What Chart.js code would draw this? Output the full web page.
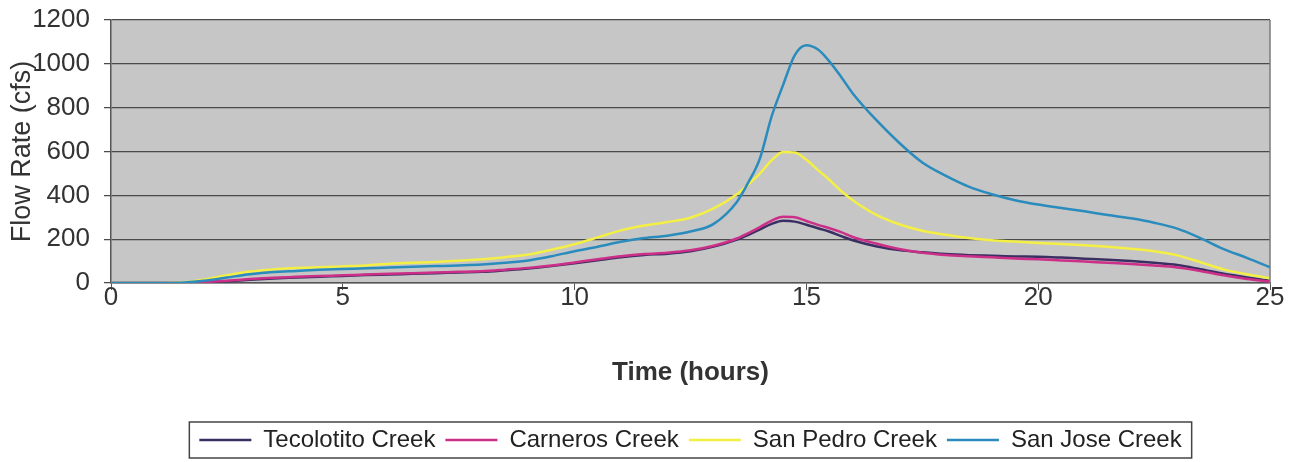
<!DOCTYPE html>
<html>
<head>
<meta charset="utf-8">
<script src="https://cdn.jsdelivr.net/npm/chart.js@4.4.1/dist/chart.umd.min.js"></script>
<style>
  html, body { margin: 0; padding: 0; background: #fff; }
  #wrap { width: 1296px; height: 462px; position: relative; }
</style>
</head>
<body>
<div id="wrap"><canvas id="flowChart"></canvas></div>
<script>
// Time steps (hours), finer around the peak
const hours = [0, 0.5, 1, 1.5, 2, 2.5, 3, 3.5, 4, 4.5, 5, 5.5, 6, 6.5, 7, 7.5, 8, 8.5, 9, 9.5,
    10, 10.5, 11, 11.5, 12, 12.5, 13, 13.5, 13.75, 14, 14.25, 14.5, 14.75, 15, 15.25, 15.5, 15.75, 16,
    16.5, 17, 17.5, 18, 18.5, 19, 19.5, 20, 20.5, 21, 21.5, 22, 22.5, 23, 23.5, 24, 24.5, 25];

// Flow rates (cfs)
const tecolotito = [0, 0, 0, 0, 3, 8, 15, 21, 25, 29, 32, 36, 39, 42, 45, 48, 51, 58, 66, 77,
    90, 104, 118, 128, 134, 145, 166, 198, 220, 245, 270, 284, 280, 266, 250, 234, 214, 195,
    168, 150, 140, 132, 127, 124, 121, 120, 116, 111, 106, 100, 92, 82, 63, 42, 25, 10];
const carneros = [0, 0, 0, 0, 4, 10, 18, 24, 28, 32, 35, 39, 42, 45, 48, 51, 54, 61, 69, 80,
    94, 108, 122, 132, 138, 149, 170, 203, 228, 255, 285, 302, 300, 283, 265, 250, 232, 210,
    180, 155, 138, 128, 122, 117, 112, 108, 103, 98, 92, 87, 80, 71, 55, 35, 18, 7];
const sanPedro = [0, 0, 0, 2, 15, 35, 52, 62, 68, 72, 76, 80, 88, 92, 96, 102, 108, 118, 130, 152,
    177, 208, 240, 262, 278, 298, 340, 405, 450, 500, 560, 598, 595, 562, 515, 470, 420, 378,
    312, 268, 238, 220, 205, 195, 189, 183, 178, 172, 165, 156, 145, 126, 95, 62, 40, 22];
const sanJose = [0, 0, 0, 1, 10, 25, 40, 50, 55, 60, 64, 67, 71, 74, 77, 80, 84, 92, 103, 122,
    145, 165, 188, 205, 216, 235, 270, 370, 460, 570, 760, 905, 1040, 1085, 1065, 1010, 940, 865,
    745, 640, 550, 490, 440, 405, 378, 358, 342, 327, 310, 295, 275, 248, 205, 155, 115, 72];

const seriesNames = ['Tecolotito Creek', 'Carneros Creek', 'San Pedro Creek', 'San Jose Creek'];
const seriesColors = ['#3a2e62', '#cc2f88', '#f3ef45', '#2a8bbd'];
const seriesValues = [tecolotito, carneros, sanPedro, sanJose];
// Excel paints later series on top
const seriesOrder = [4, 3, 2, 1];

const FONT = 'Liberation Sans, Arial, Helvetica, sans-serif';

// grey plot background + frame
const plotBackground = {
    id: 'plotBackground',
    beforeDraw(chart) {
        const { ctx, chartArea: a } = chart;
        ctx.save();
        ctx.fillStyle = '#c6c6c6';
        ctx.fillRect(a.left, a.top, a.right - a.left, a.bottom - a.top);
        ctx.restore();
    },
    afterDraw(chart) {
        const { ctx, chartArea: a } = chart;
        ctx.save();
        ctx.strokeStyle = '#7a7a7a';
        ctx.lineWidth = 1.5;
        ctx.beginPath();
        ctx.moveTo(a.right, a.top);
        ctx.lineTo(a.right, a.bottom);
        ctx.stroke();
        ctx.restore();
    }
};

// box around the legend items
const legendFrame = {
    id: 'legendFrame',
    afterDraw(chart) {
        const boxes = chart.legend && chart.legend.legendHitBoxes;
        if (!boxes || !boxes.length) return;
        const left = Math.min(...boxes.map(b => b.left)) - 10;
        const right = Math.max(...boxes.map(b => b.left + b.width)) + 10;
        const top = Math.min(...boxes.map(b => b.top)) - 6;
        const bottom = Math.max(...boxes.map(b => b.top + b.height)) + 6;
        const ctx = chart.ctx;
        ctx.save();
        ctx.strokeStyle = '#444';
        ctx.lineWidth = 1.5;
        ctx.strokeRect(left, top, right - left, bottom - top);
        ctx.restore();
    }
};

new Chart(document.getElementById('flowChart'), {
    type: 'line',
    data: {
        datasets: seriesNames.map((name, i) => ({
            label: name,
            data: hours.map((h, j) => ({ x: h, y: seriesValues[i][j] })),
            borderColor: seriesColors[i],
            backgroundColor: seriesColors[i],
            borderWidth: 2.5,
            pointRadius: 0,
            pointStyle: 'line',
            cubicInterpolationMode: 'monotone',
            order: seriesOrder[i]
        }))
    },
    options: {
        responsive: true,
        maintainAspectRatio: false,
        animation: false,
        layout: { padding: { top: 20, right: 26, left: 0, bottom: 0 } },
        plugins: {
            legend: {
                position: 'bottom',
                fullSize: false,
                labels: {
                    usePointStyle: true,
                    pointStyleWidth: 52,
                    boxHeight: 2,
                    padding: 10,
                    color: '#222',
                    font: { family: FONT, size: 24 },
                    sort: (a, b) => a.datasetIndex - b.datasetIndex
                }
            },
            tooltip: { enabled: false }
        },
        scales: {
            x: {
                type: 'linear',
                min: 0,
                max: 25,
                ticks: { stepSize: 5, color: '#333', padding: -8, font: { family: FONT, size: 26 } },
                grid: { drawOnChartArea: false, drawTicks: true, tickLength: 7, color: '#555' },
                border: { color: '#555', width: 1.5 },
                title: {
                    display: true,
                    text: 'Time (hours)',
                    color: '#333',
                    font: { family: FONT, size: 26, weight: 'bold' },
                    padding: { top: 0, bottom: 30 }
                },
                afterFit: scale => { scale.height = 135; }
            },
            y: {
                min: 0,
                max: 1200,
                ticks: {
                    stepSize: 200, color: '#333', padding: 0, font: { family: FONT, size: 26 },
                    callback: v => String(v)
                },
                // long tick slot for label spacing, only the 7px next to the axis is drawn
                grid: { color: '#4a4a4a', lineWidth: 1.3, tickLength: 21, tickBorderDash: [0, 14, 7, 100] },
                border: { color: '#555', width: 1.5 },
                title: {
                    display: true,
                    text: 'Flow Rate (cfs)',
                    color: '#333',
                    font: { family: FONT, size: 27 },
                    padding: { top: 6, bottom: 0 }
                },
                afterFit: scale => { scale.width = 111; }
            }
        }
    },
    plugins: [plotBackground, legendFrame]
});
</script>
</body>
</html>
